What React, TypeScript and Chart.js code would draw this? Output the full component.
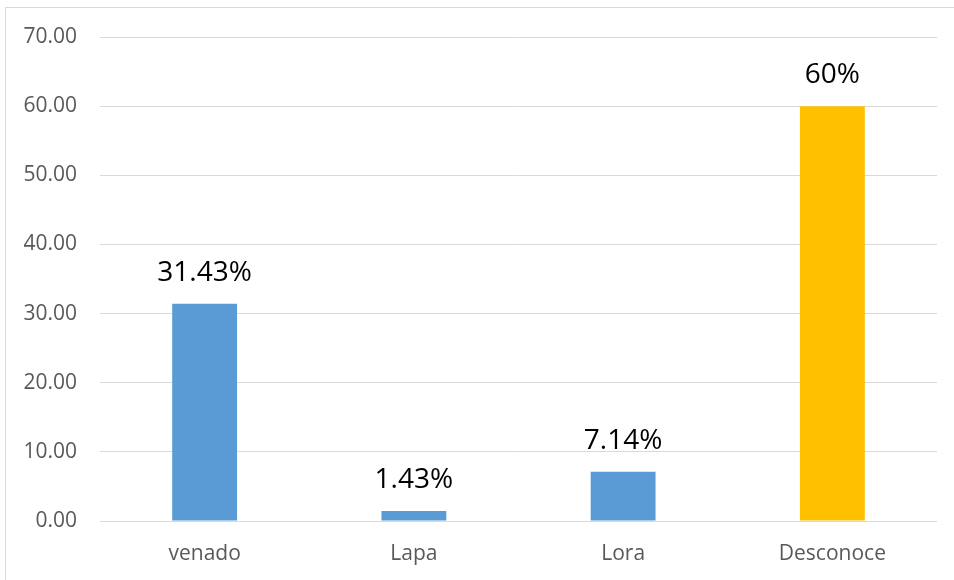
import React, { useEffect, useRef } from "react";
import { Chart, registerables } from "chart.js";

Chart.register(...registerables);

const categories = ["venado", "Lapa", "Lora", "Desconoce"];
const values = [31.43, 1.43, 7.14, 60];
const valueLabels = ["31.43%", "1.43%", "7.14%", "60%"];
const barColors = ["#5B9BD5", "#5B9BD5", "#5B9BD5", "#FFC000"];
const yMin = 0;
const yMax = 70;
const yStep = 10;

const FONT = "'Open Sans', 'Noto Sans', sans-serif";

const frameAndLabels = {
  id: "frameAndLabels",
  beforeDraw(chart: any) {
    const ctx = chart.ctx;
    ctx.save();
    ctx.fillStyle = "#ffffff";
    ctx.fillRect(0, 0, chart.width, chart.height);
    ctx.strokeStyle = "#d9d9d9";
    ctx.lineWidth = 1;
    ctx.strokeRect(5.5, 7.5, 2000, 2000);
    ctx.restore();
  },
  afterDatasetsDraw(chart: any) {
    const ctx = chart.ctx;
    const meta = chart.getDatasetMeta(0);
    ctx.save();
    ctx.fillStyle = "#000000";
    ctx.font = `28px ${FONT}`;
    ctx.textAlign = "center";
    ctx.textBaseline = "middle";
    meta.data.forEach((bar: any, i: number) => {
      ctx.fillText(valueLabels[i], bar.x, bar.y - 31);
    });
    ctx.restore();
  },
};

export default function App() {
  const ref = useRef<HTMLCanvasElement | null>(null);

  useEffect(() => {
    document.body.style.margin = "0";
    const canvas = ref.current;
    if (!canvas) return;
    const chart = new Chart(canvas, {
      type: "bar",
      data: {
        labels: categories,
        datasets: [
          {
            data: values,
            backgroundColor: barColors,
            borderWidth: 0,
            categoryPercentage: 1,
            barPercentage: 0.31,
          },
        ],
      },
      options: {
        responsive: false,
        animation: false,
        maintainAspectRatio: false,
        layout: { padding: { left: 0, top: 37, right: 17, bottom: 0 } },
        plugins: {
          legend: { display: false },
          tooltip: { enabled: false },
        },
        scales: {
          x: {
            grid: { display: false, drawTicks: false },
            border: { display: false },
            ticks: {
              color: "#595959",
              font: { family: FONT, size: 21 },
              padding: 20,
            },
            afterFit(scale: any) {
              scale.height = 59;
            },
          },
          y: {
            min: yMin,
            max: yMax,
            grid: { color: "#d9d9d9", lineWidth: 1, drawTicks: false },
            border: { display: false },
            ticks: {
              stepSize: yStep,
              color: "#595959",
              font: { family: FONT, size: 21 },
              padding: 23,
              callback: (v: any) => Number(v).toFixed(2),
            },
            afterFit(scale: any) {
              scale.width = 100;
            },
          },
        },
      },
      plugins: [frameAndLabels],
    });
    return () => chart.destroy();
  }, []);

  return (
    <canvas
      ref={ref}
      width={954}
      height={580}
      style={{ display: "block", width: 954, height: 580 }}
    />
  );
}
